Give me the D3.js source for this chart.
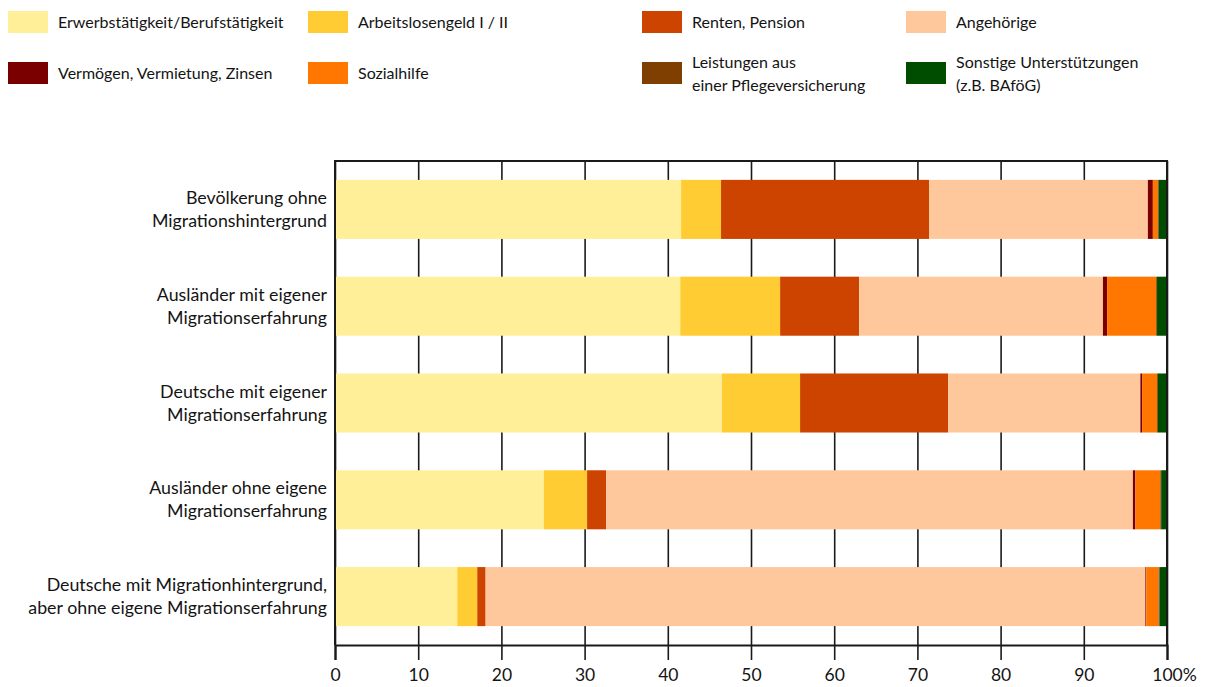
<!DOCTYPE html>
<html>
<head>
<meta charset="utf-8">
<script src="https://cdn.jsdelivr.net/npm/d3@7/dist/d3.min.js"></script>
<style>
  html, body { margin: 0; padding: 0; background: #fff; }
  svg { display: block; }
  text { font-family: Lato, "Noto Sans", sans-serif; fill: #141414; }
</style>
</head>
<body>
<svg id="chart" width="1225" height="687"></svg>
<script>
// ---- data ----
const categories = [
  ["Bevölkerung ohne", "Migrationshintergrund"],
  ["Ausländer mit eigener", "Migrationserfahrung"],
  ["Deutsche mit eigener", "Migrationserfahrung"],
  ["Ausländer ohne eigene", "Migrationserfahrung"],
  ["Deutsche mit Migrationhintergrund,", "aber ohne eigene Migrationserfahrung"]
];
const seriesNames = [
  ["Erwerbstätigkeit/Berufstätigkeit"],
  ["Arbeitslosengeld I / II"],
  ["Renten, Pension"],
  ["Angehörige"],
  ["Vermögen, Vermietung, Zinsen"],
  ["Sozialhilfe"],
  ["Leistungen aus", "einer Pflegeversicherung"],
  ["Sonstige Unterstützungen", "(z.B. BAföG)"]
];
const erwerb      = [41.6, 41.5, 46.5, 25.1, 14.7];
const arbeitslos  = [4.8, 12.0, 9.4, 5.2, 2.4];
const renten      = [25.0, 9.5, 17.8, 2.3, 1.0];
const angehoerige = [26.3, 29.3, 23.1, 63.3, 79.3];
const vermoegen   = [0.6, 0.5, 0.2, 0.3, 0.1];
const sozialhilfe = [0.6, 5.9, 1.8, 3.0, 1.5];
const pflege      = [0.1, 0.1, 0.1, 0.1, 0.1];
const sonstige    = [1.0, 1.2, 1.1, 0.7, 0.9];
const tickValues  = [0, 10, 20, 30, 40, 50, 60, 70, 80, 90, 100];
const colors = ["#FFEF99", "#FFCC33", "#CC4400", "#FFC89C", "#7A0000", "#FF7700", "#7F3F00", "#004D00"];

(function () {
const seriesValues = [erwerb, arbeitslos, renten, angehoerige, vermoegen, sozialhilfe, pflege, sonstige];
const keys = seriesValues.map((_, i) => "s" + i);
const table = categories.map((c, ci) => {
  const row = { idx: ci };
  keys.forEach((k, si) => row[k] = seriesValues[si][ci]);
  return row;
});

// ---- layout ----
const svg = d3.select("#chart");
const pLeft = 335, pRight = 1167, pTop = 161, pBottom = 645;

const x = d3.scaleLinear().domain([0, 100]).range([pLeft, pRight]);
const y = d3.scaleBand().domain(d3.range(categories.length)).range([pTop, pBottom])
  .paddingInner(0.39).paddingOuter(0.195);

// gridlines
const grid = svg.append("g").attr("transform", `translate(0,${pBottom})`)
  .call(d3.axisBottom(x).tickValues(tickValues).tickSize(-(pBottom - pTop)).tickFormat(""));
grid.select(".domain").remove();
grid.selectAll("line").attr("stroke", "#1a1a1a").attr("stroke-width", 1.6);

// stacked bars
const layers = d3.stack().keys(keys)(table);
svg.append("g").selectAll("g").data(layers).join("g")
  .attr("fill", (d, i) => colors[i])
  .selectAll("rect").data(d => d).join("rect")
  .attr("x", d => x(d[0]))
  .attr("width", d => Math.max(0, x(d[1]) - x(d[0])))
  .attr("y", d => y(d.data.idx))
  .attr("height", y.bandwidth());

// frame: top line, left axis, right border
svg.append("line").attr("x1", pLeft - 1).attr("x2", pRight + 1).attr("y1", pTop).attr("y2", pTop)
  .attr("stroke", "#1a1a1a").attr("stroke-width", 2.2);
svg.append("line").attr("x1", pLeft).attr("x2", pLeft).attr("y1", pTop).attr("y2", pBottom)
  .attr("stroke", "#1a1a1a").attr("stroke-width", 2);
svg.append("line").attr("x1", pRight).attr("x2", pRight).attr("y1", pTop).attr("y2", pBottom)
  .attr("stroke", "#1a1a1a").attr("stroke-width", 2);

// bottom axis
const ax = svg.append("g").attr("transform", `translate(0,${pBottom})`)
  .call(d3.axisBottom(x).tickValues(tickValues).tickSize(15).tickPadding(9).tickFormat(d => d));
ax.select(".domain").attr("stroke", "#1a1a1a").attr("stroke-width", 2.2);
ax.selectAll(".tick line").attr("stroke", "#1a1a1a").attr("stroke-width", 1.6);
ax.selectAll(".tick text").attr("font-size", 17.5).attr("fill", "#141414")
  .attr("font-family", "Lato, 'Noto Sans', sans-serif");
ax.selectAll(".tick text").filter(d => d === 100).each(function () {
  const t = d3.select(this);
  const w = this.getComputedTextLength();
  t.attr("text-anchor", "start").attr("x", -w / 2);
  t.append("tspan").text("%");
});

// category labels
const lab = svg.append("g");
categories.forEach((lines, ci) => {
  const cy = y(ci) + y.bandwidth() / 2;
  const t = lab.append("text").attr("text-anchor", "end").attr("font-size", 17.8);
  lines.forEach((ln, li) => {
    t.append("tspan").attr("x", 327).attr("y", cy - 5.5 + li * 23).text(ln);
  });
});

// legend
const colX = [8, 308, 642, 906];
const rowY = [11, 62];
const leg = svg.append("g");
seriesNames.forEach((lines, i) => {
  const c = i % 4, r = Math.floor(i / 4);
  const sx = colX[c], sy = rowY[r];
  leg.append("rect").attr("x", sx).attr("y", sy).attr("width", 40).attr("height", 22).attr("fill", colors[i]);
  const t = leg.append("text").attr("font-size", 16);
  const cy = sy + 11;
  const n = lines.length;
  lines.forEach((ln, li) => {
    t.append("tspan").attr("x", sx + 50).attr("y", cy + 6 + (li - (n - 1) / 2) * 23).text(ln);
  });
});
})();
</script>
</body>
</html>
